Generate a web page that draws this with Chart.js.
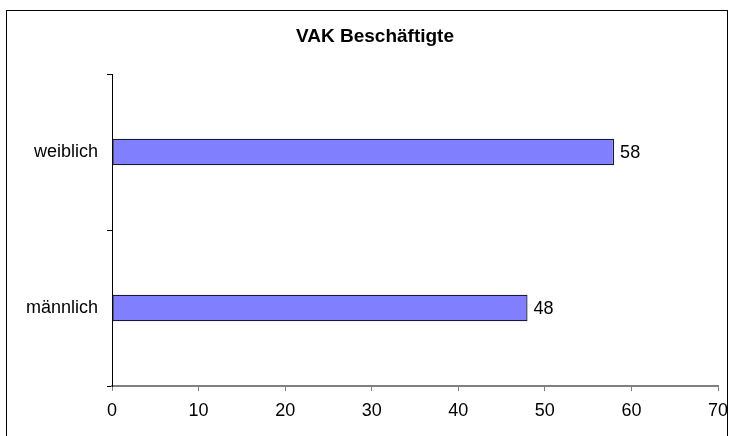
<!DOCTYPE html>
<html>
<head>
<meta charset="utf-8">
<script src="https://cdn.jsdelivr.net/npm/chart.js@4"></script>
<style>
  html, body { margin: 0; padding: 0; background: #fff; }
  #wrap { width: 734px; height: 436px; }
</style>
</head>
<body>
<div id="wrap"><canvas id="c" width="734" height="436"></canvas></div>
<script>
/* data */
const categories = ["weiblich", "männlich"];
const values = [58, 48];
const chartTitle = "VAK Beschäftigte";
const xMin = 0, xMax = 70, xStep = 10;

const FONT = "'Liberation Sans', Arial, sans-serif";

const frameAndTitle = {
  id: "frameAndTitle",
  beforeDraw(chart) {
    const { ctx } = chart;
    ctx.save();
    ctx.fillStyle = "#fff";
    ctx.fillRect(0, 0, chart.width, chart.height);
    ctx.strokeStyle = "#000";
    ctx.lineWidth = 1;
    ctx.strokeRect(6.5, 10.5, 721, 440);
    ctx.restore();
  },
  afterDraw(chart) {
    const { ctx } = chart;
    ctx.save();
    ctx.fillStyle = "#000";
    ctx.font = "bold 19px " + FONT;
    ctx.textAlign = "center";
    ctx.textBaseline = "alphabetic";
    ctx.fillText(chartTitle, 375, 42);
    ctx.restore();
  },
};

const valueLabels = {
  id: "valueLabels",
  afterDatasetsDraw(chart) {
    const { ctx } = chart;
    const meta = chart.getDatasetMeta(0);
    ctx.save();
    ctx.fillStyle = "#000";
    ctx.font = "18px " + FONT;
    ctx.textAlign = "left";
    ctx.textBaseline = "middle";
    meta.data.forEach((bar, i) => {
      ctx.fillText(String(values[i]), bar.x + 6, bar.y + 1);
    });
    ctx.restore();
  },
};

new Chart(document.getElementById("c"), {
  type: "bar",
  data: {
    labels: categories,
    datasets: [{
      data: values,
      backgroundColor: "#8080ff",
      borderColor: "#1a1a33",
      borderWidth: 1.3,
      borderSkipped: false,
      categoryPercentage: 1,
      barPercentage: 0.17,
    }],
  },
  plugins: [frameAndTitle, valueLabels],
  options: {
    indexAxis: "y",
    responsive: false,
    animation: false,
    devicePixelRatio: 1,
    layout: { padding: { left: 0, top: 74, right: 16, bottom: 0 } },
    plugins: {
      legend: { display: false },
      tooltip: { enabled: false },
      title: { display: false },
    },
    scales: {
      x: {
        min: xMin,
        max: xMax,
        ticks: {
          stepSize: xStep,
          color: "#000",
          font: { family: FONT, size: 18 },
          padding: 9,
          maxRotation: 0,
        },
        grid: {
          drawOnChartArea: false,
          drawTicks: true,
          tickLength: 5,
          color: "#808080",
        },
        border: { display: true, color: "#808080", width: 2 },
        afterFit(scale) {
          scale.height = 50;
          scale.paddingLeft = 0;
          scale.paddingRight = 0;
        },
      },
      y: {
        ticks: {
          color: "#000",
          font: { family: FONT, size: 18 },
          padding: 9,
        },
        grid: {
          offset: true,
          drawOnChartArea: false,
          drawTicks: true,
          tickLength: 5,
          color: "#000",
        },
        border: { display: true, color: "#000", width: 1 },
        afterFit(scale) {
          scale.width = 112;
          scale.paddingTop = 0;
          scale.paddingBottom = 0;
        },
      },
    },
  },
});
</script>
</body>
</html>
